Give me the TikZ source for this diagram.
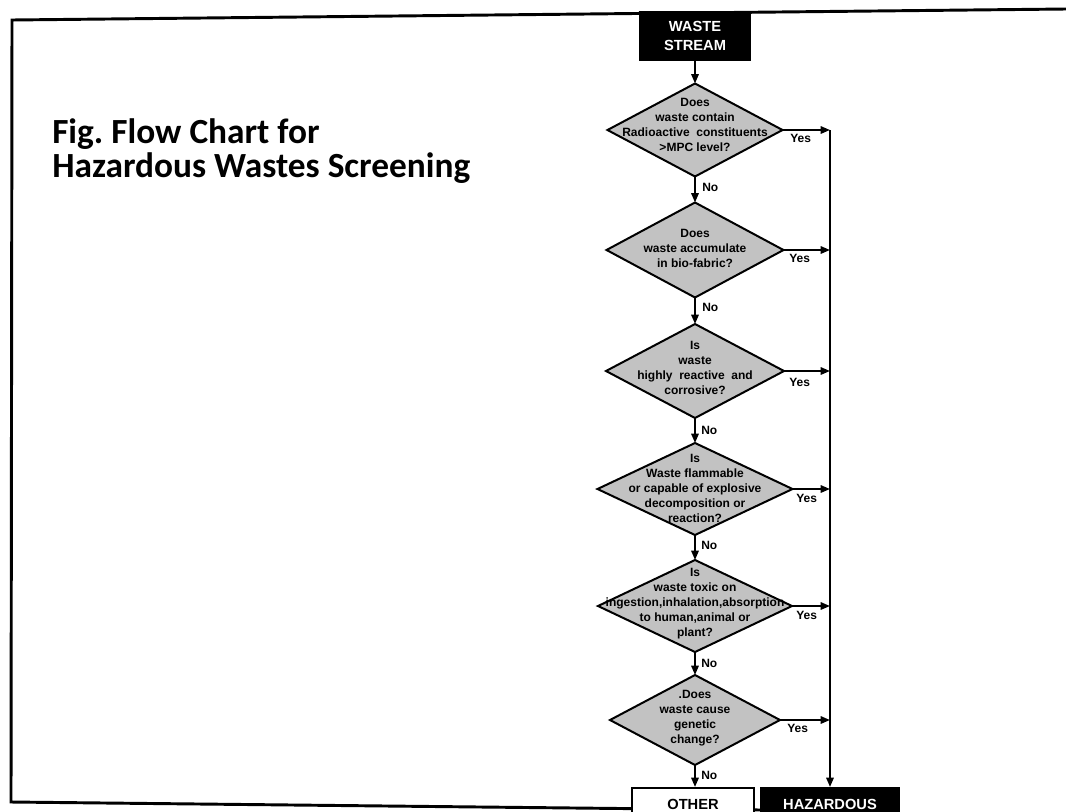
\documentclass[tikz,border=0pt]{standalone}
\usepackage{fontspec}
\setmainfont{Liberation Sans}
\newfontfamily\titlefont{Carlito}
\usetikzlibrary{shapes.geometric,arrows.meta,calc}
\frenchspacing
\begin{document}
\begin{tikzpicture}[x=0.75pt,y=-0.75pt,
  dia/.style={diamond,draw=black,line width=1.5pt,fill=black!24,inner sep=0pt,outer sep=0pt},
  dtext/.style={align=center,font=\fontsize{9}{11.25}\selectfont\bfseries,inner sep=0pt},
  blackbox/.style={fill=black,draw=black,line width=1pt,text=white,align=center,inner sep=3pt,font=\fontsize{11}{14}\selectfont\bfseries},
  whitebox/.style={fill=white,draw=black,line width=1.2pt,text=black,align=center,inner sep=3pt,font=\fontsize{11}{14}\selectfont\bfseries},
  arr/.style={line width=1.5pt,-{Triangle[length=7pt,width=5.5pt]}},
  lbl/.style={font=\fontsize{9}{10}\selectfont\bfseries,inner sep=0pt},
  framestyle/.style={line width=2.2pt,line join=miter}]
\useasboundingbox (0,0) rectangle (1066,811);
\clip (0,0) rectangle (1066,811);
\fill[white] (0,0) rectangle (1066,811);
% frame
\draw[framestyle] (1066,9) -- (12,20) -- (11,802) -- (762,810);
% title
\node[anchor=north west,align=left,inner sep=0pt,font=\titlefont\fontsize{26.5}{26}\selectfont\bfseries] (title) at (52,118) {Fig. Flow Chart for\\Hazardous Wastes Screening};
% boxes
\node[blackbox,minimum width=110*0.75pt,minimum height=48*0.75pt] (ws) at (695,36) {WASTE\\STREAM};
% diamonds
\node[dia,minimum width=175*0.75pt,minimum height=93*0.75pt] (d1) at (695,130) {};
\node[dia,minimum width=177*0.75pt,minimum height=95*0.75pt] (d2) at (695,250) {};
\node[dia,minimum width=178*0.75pt,minimum height=94*0.75pt] (d3) at (695,371) {};
\node[dia,minimum width=195*0.75pt,minimum height=92*0.75pt] (d4) at (695,489) {};
\node[dia,minimum width=194*0.75pt,minimum height=92*0.75pt] (d5) at (695,606) {};
\node[dia,minimum width=170*0.75pt,minimum height=90*0.75pt] (d6) at (695,720) {};
\node[dtext] (t1) at (695,125) {Does\\waste contain\\Radioactive\ \ constituents\\>MPC level?};
\node[dtext] (t2) at (695,248) {Does\\waste accumulate\\in bio-fabric?};
\node[dtext] (t3) at (695,368) {Is\\waste\\highly\ \ reactive\ \ and\\corrosive?};
\node[dtext] (t4) at (695,488) {Is\\Waste flammable\\or capable of explosive\\decomposition or\\reaction?};
\node[dtext] (t5) at (695,604) {Is\\waste toxic on\\ingestion,inhalation,absorption\\to human,animal or\\plant?};
\node[dtext] (t6) at (695,718) {.Does\\waste cause\\genetic\\change?};
% bottom boxes
\node[whitebox,anchor=north,inner ysep=1pt,minimum width=122*0.75pt,minimum height=50*0.75pt,font=\fontsize{11}{12.5}\selectfont\bfseries] (other) at (693,787) {OTHER\\WASTE};
\node[blackbox,anchor=north,inner ysep=1pt,minimum width=138*0.75pt,minimum height=50*0.75pt,font=\fontsize{11}{12.5}\selectfont\bfseries] (haz) at (830,787) {HAZARDOUS\\WASTE};
% junctions on the right line
\coordinate (j1) at (d1.east -| haz.north);
\coordinate (j2) at (d2.east -| haz.north);
\coordinate (j3) at (d3.east -| haz.north);
\coordinate (j4) at (d4.east -| haz.north);
\coordinate (j5) at (d5.east -| haz.north);
\coordinate (j6) at (d6.east -| haz.north);
% connectors
\draw[arr] (ws.south) -- (d1.north);
\draw[arr] (d1.south) -- (d2.north);
\draw[arr] (d2.south) -- (d3.north);
\draw[arr] (d3.south) -- (d4.north);
\draw[arr] (d4.south) -- (d5.north);
\draw[arr] (d5.south) -- (d6.north);
\draw[arr] (d6.south) -- (d6.south |- other.north);
\draw[arr] (d1.east) -- (j1);
\draw[arr] (d2.east) -- (j2);
\draw[arr] (d3.east) -- (j3);
\draw[arr] (d4.east) -- (j4);
\draw[arr] (d5.east) -- (j5);
\draw[arr] (d6.east) -- (j6);
\draw[arr] (j1) -- (haz.north);
% labels
\node[lbl,anchor=west] (y1) at (790,138) {Yes};
\node[lbl,anchor=west] (y2) at (789,258) {Yes};
\node[lbl,anchor=west] (y3) at (789,382) {Yes};
\node[lbl,anchor=west] (y4) at (796,498) {Yes};
\node[lbl,anchor=west] (y5) at (796,615) {Yes};
\node[lbl,anchor=west] (y6) at (787,728) {Yes};
\node[lbl,anchor=west] (n1) at (702,187) {No};
\node[lbl,anchor=west] (n2) at (702,307) {No};
\node[lbl,anchor=west] (n3) at (701,430) {No};
\node[lbl,anchor=west] (n4) at (701,545) {No};
\node[lbl,anchor=west] (n5) at (701,663) {No};
\node[lbl,anchor=west] (n6) at (701,775) {No};
\end{tikzpicture}
\end{document}
